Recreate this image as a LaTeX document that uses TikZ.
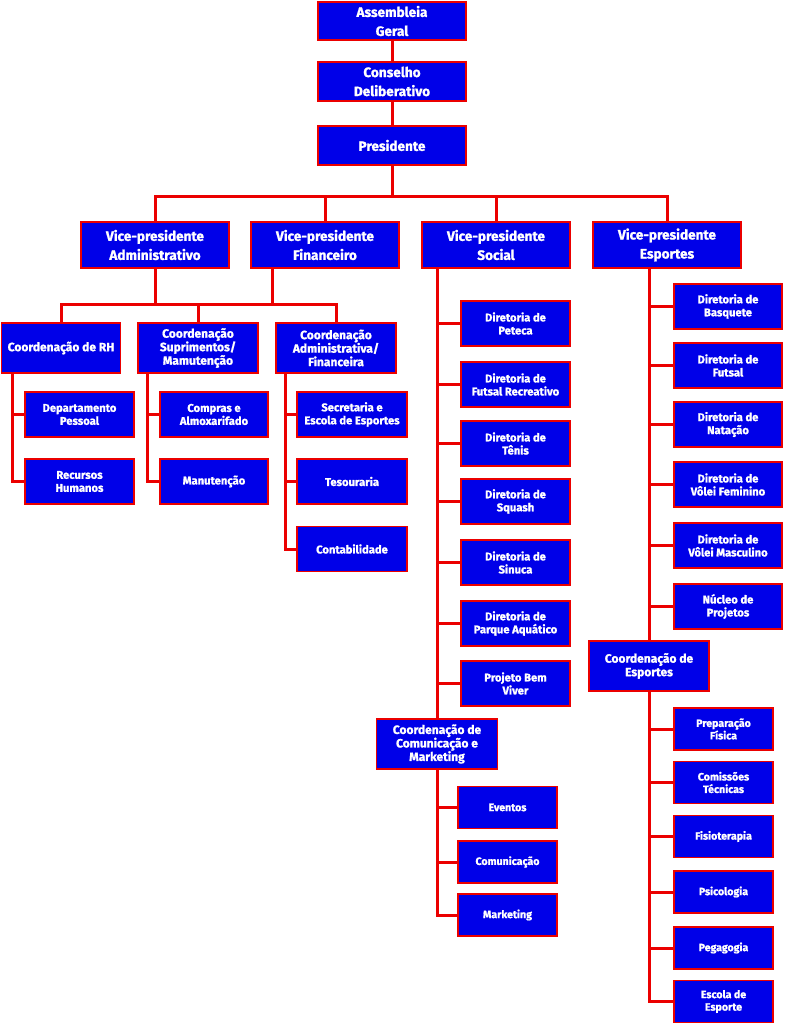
\documentclass[tikz,border=0pt]{standalone}
\usepackage{fontspec}
\setmainfont{Fira Sans}[BoldFeatures={FakeBold=1.2}]
\definecolor{boxblue}{RGB}{0,0,232}
\definecolor{linered}{RGB}{235,0,0}
\begin{document}
\begin{tikzpicture}[x=1pt,y=-1pt,
  box/.style={draw=linered, fill=boxblue, line width=1.8pt, text=white, align=center,
    inner sep=0pt, outer sep=0pt},
  big/.style={box, minimum width=148pt, font=\fontsize{13.6}{19}\selectfont\bfseries},
  coord/.style={box, minimum width=120pt, minimum height=50pt, font=\fontsize{12}{13.5}\selectfont\bfseries},
  small/.style={box, minimum width=108pt, minimum height=45pt, font=\fontsize{11.2}{13}\selectfont\bfseries},
  tiny/.style={box, minimum width=99pt, minimum height=42pt, font=\fontsize{10.6}{12.5}\selectfont\bfseries},
  conn/.style={draw=linered, line width=3pt}]
\useasboundingbox (0,0) rectangle (784,1024);
% top
\node[big, minimum height=38pt] (ag) at (392,21) {Assembleia\\Geral};
\node[big, minimum height=39pt] (cd) at (392,81.5) {Conselho\\Deliberativo};
\node[big, minimum height=39pt] (pres) at (392,145.5) {Presidente};
\node[big, minimum height=46pt] (vpa) at (155,245) {Vice-presidente\\Administrativo};
\node[big, minimum height=46pt] (vpf) at (325,245) {Vice-presidente\\Financeiro};
\node[big, minimum height=46pt] (vps) at (496,245) {Vice-presidente\\Social};
\node[big, minimum height=46pt] (vpe) at (667,245) {Vice-presidente\\Esportes};
% coordination under adm/fin
\node[coord, minimum width=119pt] (crh) at (61,348) {Coordenação de RH};
\node[coord] (csm) at (198,348) {Coordenação\\Suprimentos/\\Mamutenção};
\node[coord] (caf) at (336,348) {Coordenação\\Administrativa/\\Financeira};
\node[small, minimum width=109pt] (dp) at (79.5,414.5) {Departamento\\Pessoal};
\node[small, minimum width=109pt] (rh) at (79.5,481.5) {Recursos\\Humanos};
\node[small] (comp) at (214,414.5) {Compras e\\Almoxarifado};
\node[small] (man) at (214,481.5) {Manutenção};
\node[small, minimum width=110pt] (sec) at (352,414.5) {Secretaria e\\Escola de Esportes};
\node[small, minimum width=110pt] (tes) at (352,481.5) {Tesouraria};
\node[small, minimum width=110pt] (cont) at (352,549) {Contabilidade};
% social
\node[small, minimum width=109pt] (s1) at (515.5,323.5) {Diretoria de\\Peteca};
\node[small, minimum width=109pt] (s2) at (515.5,384.5) {Diretoria de\\Futsal Recreativo};
\node[small, minimum width=109pt] (s3) at (515.5,443.5) {Diretoria de\\Tênis};
\node[small, minimum width=109pt] (s4) at (515.5,501.5) {Diretoria de\\Squash};
\node[small, minimum width=109pt] (s5) at (515.5,562.5) {Diretoria de\\Sinuca};
\node[small, minimum width=109pt] (s6) at (515.5,623.5) {Diretoria de\\Parque Aquático};
\node[small, minimum width=109pt] (s7) at (515.5,683.5) {Projeto Bem\\Viver};
\node[coord, minimum width=121pt] (ccm) at (437,744) {Coordenação de\\Comunicação e\\Marketing};
\node[tiny] (ev) at (507.5,807.5) {Eventos};
\node[tiny] (com) at (507.5,862) {Comunicação};
\node[tiny] (mkt) at (507.5,915) {Marketing};
% esportes
\node[small] (e1) at (728,306.5) {Diretoria de\\Basquete};
\node[small] (e2) at (728,365.5) {Diretoria de\\Futsal};
\node[small] (e3) at (728,424.5) {Diretoria de\\Natação};
\node[small] (e4) at (728,484.5) {Diretoria de\\Vôlei Feminino};
\node[small] (e5) at (728,545.5) {Diretoria de\\Vôlei Masculino};
\node[small] (e6) at (728,606.5) {Núcleo de\\Projetos};
\node[coord] (ces) at (649,666) {Coordenação de\\Esportes};
\node[tiny] (p1) at (723.5,729) {Preparação\\Física};
\node[tiny] (p2) at (723.5,782.5) {Comissões\\Técnicas};
\node[tiny] (p3) at (723.5,836.5) {Fisioterapia};
\node[tiny] (p4) at (723.5,892) {Psicologia};
\node[tiny] (p5) at (723.5,948) {Pegagogia};
\node[tiny] (p6) at (723.5,1001.5) {Escola de\\Esporte};
% connectors
\draw[conn] (ag) -- (cd);
\draw[conn] (cd) -- (pres);
\coordinate (b1) at (392,197);
\draw[conn] (pres.south) -- (b1);
\draw[conn] (vpa.north) |- (b1) -| (vpe.north);
\draw[conn] (vpf.north) -- (vpf.north |- b1);
\draw[conn] (vps.north) -- (vps.north |- b1);
\coordinate (b2) at (0,304);
\coordinate (vpfo) at ([xshift=-53pt]vpf.south);
\draw[conn] (vpa.south) -- (vpa.south |- b2);
\draw[conn] (vpfo) -- (vpfo |- b2);
\draw[conn] (crh.north) |- (b2 -| csm.north) -| (caf.north);
\draw[conn] (csm.north) -- (csm.north |- b2);
% RH column
\coordinate (v1) at ([xshift=10.5pt]crh.south west);
\draw[conn] (v1) |- (rh.west);
\draw[conn] (v1 |- dp.west) -- (dp.west);
\coordinate (v2) at ([xshift=9pt]csm.south west);
\draw[conn] (v2) |- (man.west);
\draw[conn] (v2 |- comp.west) -- (comp.west);
\coordinate (v3) at ([xshift=9pt]caf.south west);
\draw[conn] (v3) |- (cont.west);
\draw[conn] (v3 |- sec.west) -- (sec.west);
\draw[conn] (v3 |- tes.west) -- (tes.west);
% social column
\coordinate (v4) at ([xshift=15pt]vps.south west);
\draw[conn] (v4) -- (ccm.north);
\foreach \n in {s1,s2,s3,s4,s5,s6,s7} \draw[conn] (v4 |- \n.west) -- (\n.west);
\draw[conn] (ccm.south) |- (mkt.west);
\foreach \n in {ev,com} \draw[conn] (ccm.south |- \n.west) -- (\n.west);
% esportes column
\coordinate (v5) at ([xshift=56pt]vpe.south west);
\draw[conn] (v5) -- (ces.north);
\foreach \n in {e1,e2,e3,e4,e5,e6} \draw[conn] (v5 |- \n.west) -- (\n.west);
\draw[conn] (ces.south) |- (p6.west);
\foreach \n in {p1,p2,p3,p4,p5} \draw[conn] (ces.south |- \n.west) -- (\n.west);
\end{tikzpicture}
\end{document}
